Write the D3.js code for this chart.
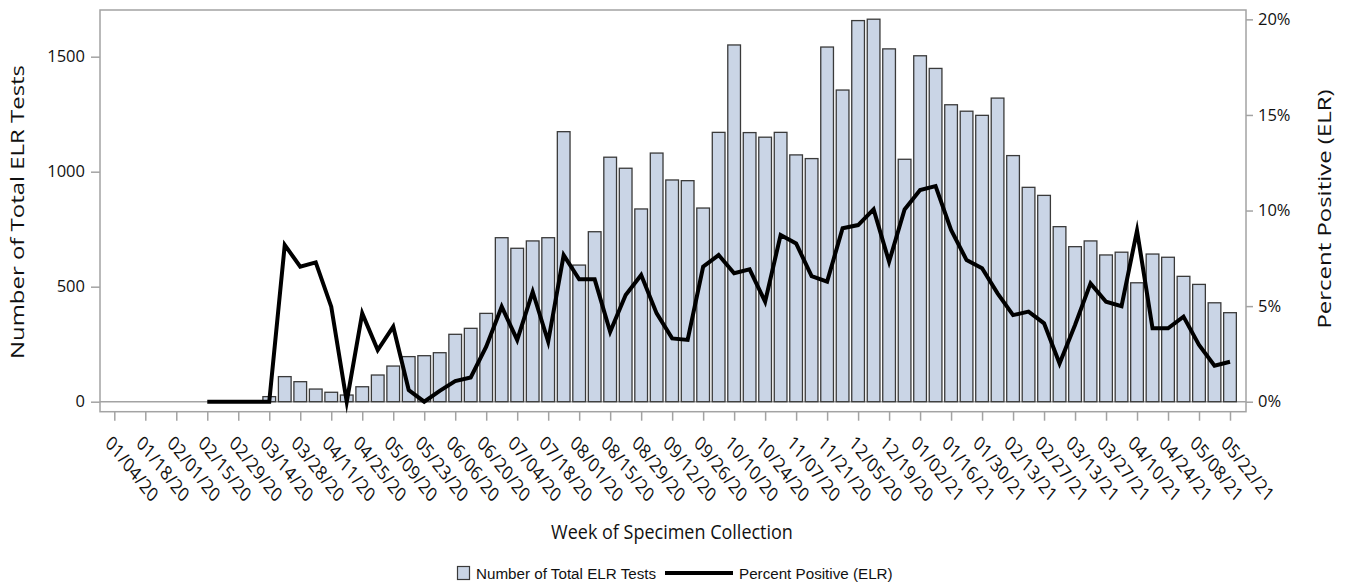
<!DOCTYPE html>
<html>
<head>
<meta charset="utf-8">
<script src="https://cdn.jsdelivr.net/npm/d3@7"></script>
<style>
  body { margin: 0; background: #fff; }
  text { font-family: "Open Sans", "Noto Sans", sans-serif; fill: #111; }
  .legend text { font-family: "Liberation Sans Narrow", "Arial Narrow", sans-serif; }
</style>
</head>
<body>
<svg id="chart" width="1347" height="586"></svg>
<script>
// Week start dates (week of specimen collection)
const WEEKS = [
  '01/04/20','01/11/20','01/18/20','01/25/20','02/01/20','02/08/20','02/15/20','02/22/20',
  '02/29/20','03/07/20','03/14/20','03/21/20','03/28/20','04/04/20','04/11/20','04/18/20',
  '04/25/20','05/02/20','05/09/20','05/16/20','05/23/20','05/30/20','06/06/20','06/13/20',
  '06/20/20','06/27/20','07/04/20','07/11/20','07/18/20','07/25/20','08/01/20','08/08/20',
  '08/15/20','08/22/20','08/29/20','09/05/20','09/12/20','09/19/20','09/26/20','10/03/20',
  '10/10/20','10/17/20','10/24/20','10/31/20','11/07/20','11/14/20','11/21/20','11/28/20',
  '12/05/20','12/12/20','12/19/20','12/26/20','01/02/21','01/09/21','01/16/21','01/23/21',
  '01/30/21','02/06/21','02/13/21','02/20/21','02/27/21','03/06/21','03/13/21','03/20/21',
  '03/27/21','04/03/21','04/10/21','04/17/21','04/24/21','05/01/21','05/08/21','05/15/21',
  '05/22/21'
];

// Number of total ELR tests per week
const TESTS = [
  null, null, null, null, null, null, 0, 0, 0, 0,
  22, 109, 87, 55, 41, 29, 65, 116, 155, 196,
  200, 213, 293, 319, 384, 713, 667, 699, 713, 1174,
  594, 739, 1063, 1015, 838, 1081, 964, 961, 842, 1171,
  1551, 1170, 1150, 1171, 1073, 1057, 1542, 1355, 1657, 1663,
  1534, 1054, 1504, 1449, 1291, 1263, 1245, 1320, 1070, 932,
  897, 761, 674, 699, 638, 650, 517, 642, 628, 545,
  510, 430, 387
];

// Percent positive (ELR), in %
const PCT = [
  null, null, null, null, null, null, 0, 0, 0, 0,
  0, 8.2, 7.06, 7.29, 4.97, 0, 4.62, 2.7, 3.92, 0.61,
  0, 0.57, 1.08, 1.27, 2.88, 4.97, 3.23, 5.75, 3.14, 7.67,
  6.4, 6.4, 3.66, 5.58, 6.63, 4.62, 3.31, 3.23, 7.06, 7.67,
  6.72, 6.92, 5.23, 8.72, 8.28, 6.57, 6.28, 9.07, 9.24, 10.06,
  7.32, 10.06, 11.07, 11.28, 8.98, 7.41, 6.98, 5.67, 4.53, 4.71,
  4.1, 2.0, 4.01, 6.19, 5.23, 5.0, 8.95, 3.84, 3.84, 4.45,
  2.97, 1.88, 2.09
];

const LEFT_TICKS = [0, 500, 1000, 1500];
const RIGHT_TICKS = [0, 5, 10, 15, 20];
const X_TICKS = WEEKS.filter(function(d, i) { return i % 2 === 0; });

const svg = d3.select('#chart');

// plot frame
const frame = { left: 100, right: 1246, top: 10, bottom: 411.7 };
const zeroY = 401.7;
// the reference picture is a bit taller than wide, so text gets stretched vertically
const vStretch = 1.26;

const x = d3.scalePoint().domain(WEEKS).range([114.3, 1230]);
const yL = d3.scaleLinear().domain([0, 1703]).range([zeroY, frame.top]);
const yR = d3.scaleLinear().domain([0, 20.49]).range([zeroY, frame.top]);
const barW = x.step() * 0.82;

const axisColor = '#a3a3a3';

// frame
svg.append('rect')
  .attr('x', frame.left).attr('y', frame.top)
  .attr('width', frame.right - frame.left).attr('height', frame.bottom - frame.top)
  .attr('fill', 'none').attr('stroke', axisColor).attr('stroke-width', 1.5);

// zero reference line
svg.append('line')
  .attr('x1', frame.left).attr('x2', frame.right)
  .attr('y1', yL(0)).attr('y2', yL(0))
  .attr('stroke', axisColor).attr('stroke-width', 1.5);

// bars
svg.append('g').attr('class', 'bars')
  .selectAll('rect')
  .data(WEEKS.map(function(w, i) { return { week: w, v: TESTS[i] }; }).filter(function(d) { return d.v !== null; }))
  .enter().append('rect')
    .attr('x', function(d) { return x(d.week) - barW / 2; })
    .attr('y', function(d) { return yL(d.v); })
    .attr('width', barW)
    .attr('height', function(d) { return yL(0) - yL(d.v); })
    .attr('fill', '#cad5e6')
    .attr('stroke', '#3a3a3a')
    .attr('stroke-width', 1.3);

// percent line
const line = d3.line()
  .defined(function(d) { return d.v !== null; })
  .x(function(d) { return x(d.week); })
  .y(function(d) { return yR(d.v); });

svg.append('path')
  .datum(WEEKS.map(function(w, i) { return { week: w, v: PCT[i] }; }))
  .attr('d', line)
  .attr('fill', 'none')
  .attr('stroke', '#000')
  .attr('stroke-width', 4)
  .attr('stroke-linejoin', 'miter')
  .attr('stroke-miterlimit', 10);

// left axis
const gL = svg.append('g').attr('transform', 'translate(' + frame.left + ',0)')
  .call(d3.axisLeft(yL).tickValues(LEFT_TICKS).tickSize(9).tickPadding(6).tickFormat(d3.format('d')));
gL.select('.domain').remove();
gL.selectAll('line').attr('stroke', axisColor).attr('stroke-width', 1.5);
gL.selectAll('text').style('font-size', '16.5px').attr('fill', '#111');

// right axis
const gR = svg.append('g').attr('transform', 'translate(' + frame.right + ',0)')
  .call(d3.axisRight(yR).tickValues(RIGHT_TICKS).tickSize(7).tickPadding(5).tickFormat(function(d) { return d + '%'; }));
gR.select('.domain').remove();
gR.selectAll('line').attr('stroke', axisColor).attr('stroke-width', 1.5);
gR.selectAll('text').style('font-size', '16.5px').attr('fill', '#111');

// bottom axis, ticks every second week
const gB = svg.append('g').attr('transform', 'translate(0,' + frame.bottom + ')')
  .call(d3.axisBottom(x).tickValues(X_TICKS).tickSize(9).tickFormat(''));
gB.select('.domain').remove();
gB.selectAll('line').attr('stroke', axisColor).attr('stroke-width', 1.5);

svg.append('g').attr('class', 'xlabels')
  .selectAll('text')
  .data(X_TICKS)
  .enter().append('text')
    .attr('transform', function(d) {
      return 'translate(' + (x(d) - 1) + ',433) scale(1,' + vStretch + ') rotate(45)';
    })
    .attr('dy', '0.78em')
    .attr('text-anchor', 'start')
    .style('font-size', '16px')
    .text(function(d) { return d; });

// axis titles
svg.append('text')
  .attr('transform', 'translate(24,212) rotate(-90) scale(' + vStretch + ',1)')
  .attr('text-anchor', 'middle')
  .style('font-size', '19px')
  .text('Number of Total ELR Tests');

svg.append('text')
  .attr('transform', 'translate(1331,209) rotate(-90) scale(' + vStretch + ',1)')
  .attr('text-anchor', 'middle')
  .style('font-size', '19px')
  .text('Percent Positive (ELR)');

svg.append('text')
  .attr('transform', 'translate(672,539) scale(1,1.1)')
  .attr('text-anchor', 'middle')
  .style('font-size', '18px')
  .text('Week of Specimen Collection');

// legend
const lg = svg.append('g').attr('class', 'legend');
lg.append('rect')
  .attr('x', 457.5).attr('y', 566.5).attr('width', 12).attr('height', 13)
  .attr('fill', '#cad5e6').attr('stroke', '#3a3a3a').attr('stroke-width', 1.2);
lg.append('text')
  .attr('x', 476).attr('y', 579)
  .style('font-size', '15.2px')
  .text('Number of Total ELR Tests');
lg.append('line')
  .attr('x1', 665).attr('x2', 733).attr('y1', 573).attr('y2', 573)
  .attr('stroke', '#000').attr('stroke-width', 4);
lg.append('text')
  .attr('x', 739).attr('y', 579)
  .style('font-size', '15.2px')
  .text('Percent Positive (ELR)');
</script>
</body>
</html>
